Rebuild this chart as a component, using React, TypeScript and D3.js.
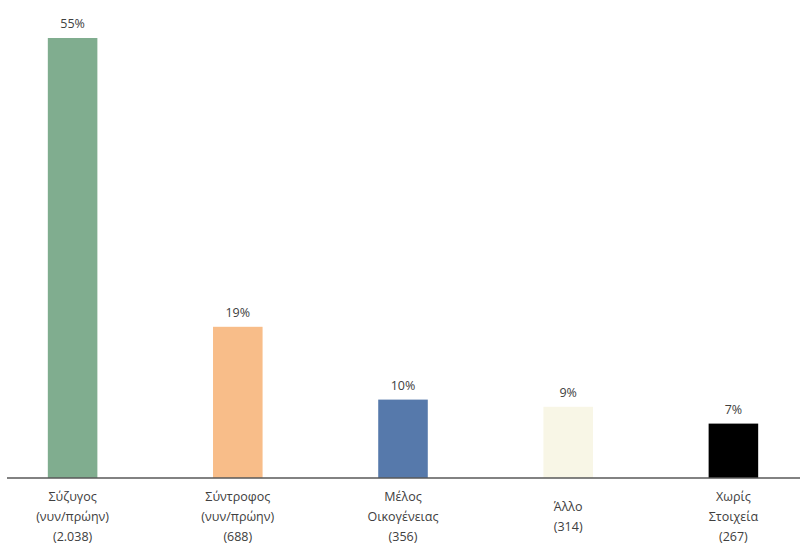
import React from "react";
import * as d3 from "d3";

const categories: string[][] = [
  ["Σύζυγος", "(νυν/πρώην)", "(2.038)"],
  ["Σύντροφος", "(νυν/πρώην)", "(688)"],
  ["Μέλος", "Οικογένειας", "(356)"],
  ["Άλλο", "(314)"],
  ["Χωρίς", "Στοιχεία", "(267)"],
];
const values: number[] = [55, 18.9, 9.8, 8.9, 6.8];
const valueLabels: string[] = ["55%", "19%", "10%", "9%", "7%"];
const colors: string[] = ["#80ad8f", "#f8bd89", "#5679ab", "#f8f6e6", "#000000"];

const W = 805;
const H = 550;
const baseY = 478;

export default function App() {
  const keys = categories.map((_, i) => String(i));
  const x = d3
    .scaleBand<string>()
    .domain(keys)
    .range([-10, 816])
    .paddingInner(0.7)
    .paddingOuter(0.35);
  const y = d3.scaleLinear().domain([0, 55]).range([baseY, 38]);
  const font = "'Open Sans', 'DejaVu Sans', sans-serif";
  return (
    <svg
      width={W}
      height={H}
      style={{ position: "absolute", left: 0, top: 0, background: "#fff" }}
    >
      {values.map((v, i) => {
        const bx = x(String(i))!;
        const bw = x.bandwidth();
        return (
          <g key={i}>
            <rect x={bx} y={y(v)} width={bw} height={baseY - y(v)} fill={colors[i]} />
            <text
              x={bx + bw / 2}
              y={y(v) - 10}
              textAnchor="middle"
              fontFamily={font}
              fontSize={12.5}
              fill="#404040"
            >
              {valueLabels[i]}
            </text>
          </g>
        );
      })}
      <line x1={7} x2={800} y1={baseY} y2={baseY} stroke="#595959" strokeWidth={1.5} />
      {categories.map((lines, i) => {
        const cx = x(String(i))! + x.bandwidth() / 2;
        const startY = lines.length === 3 ? 501 : 511;
        return (
          <text
            key={i}
            textAnchor="middle"
            fontFamily={font}
            fontSize={12.5}
            fill="#404040"
          >
            {lines.map((l, j) => (
              <tspan key={j} x={cx} y={startY + j * 20}>
                {l}
              </tspan>
            ))}
          </text>
        );
      })}
    </svg>
  );
}
